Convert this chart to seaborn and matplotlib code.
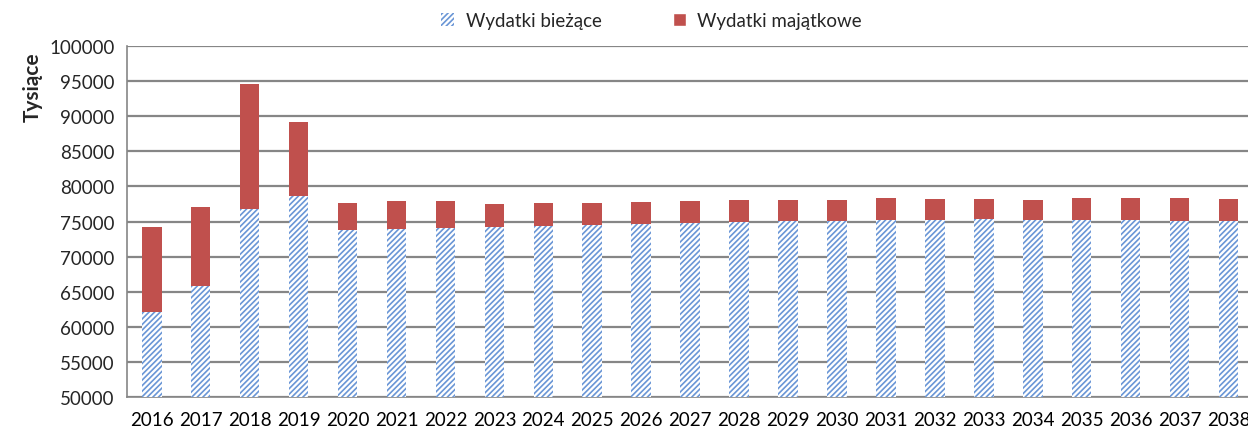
import matplotlib.pyplot as plt
import matplotlib.patches as mpatches
import seaborn as sns
import pandas as pd
import numpy as np

years = [str(y) for y in range(2016, 2039)]
# Wydatki bieżące (tys.)
biezace = [62060, 65810, 76820, 78630, 73740, 73930, 74070, 74260, 74400, 74550,
           74690, 74830, 74970, 75020, 75120, 75170, 75210, 75360, 75210, 75210,
           75210, 75120, 75070]
# Wydatki ogółem (bieżące + majątkowe)
ogolem = [74250, 77110, 94590, 89170, 77640, 77920, 77920, 77450, 77590, 77680,
          77780, 77870, 78060, 78110, 78110, 78350, 78160, 78250, 78110, 78300,
          78300, 78300, 78200]

df = pd.DataFrame({'Rok': years, 'Biezace': biezace, 'Ogolem': ogolem})

sns.set_style('white')
plt.rcParams['font.family'] = ['Lato', 'DejaVu Sans']
plt.rcParams['hatch.linewidth'] = 1.2

blue = '#6a96d6'
red = '#c0504d'
grid_col = '#868686'

fig = plt.figure(figsize=(12.48, 4.35), dpi=100)
ax = fig.add_axes([0.102, 0.085, 0.902, 0.807])

# majątkowe = górna część słupka (rysowana jako suma)
sns.barplot(data=df, x='Rok', y='Ogolem', color=red, width=0.4, ax=ax,
            saturation=1, linewidth=0, zorder=3)
n = len(ax.patches)
sns.barplot(data=df, x='Rok', y='Biezace', color='white', width=0.4, ax=ax,
            saturation=1, linewidth=0, zorder=4)
for p in ax.patches[n:]:
    p.set_facecolor('white')
    p.set_edgecolor(blue)
    p.set_hatch('//////')
    p.set_linewidth(0)

ax.set_ylim(50000, 100000)
ax.set_xlim(-0.5, len(years) - 0.5)
ax.set_yticks(np.arange(50000, 100001, 5000))
ax.yaxis.grid(True, color=grid_col, linewidth=1.6, zorder=0)
ax.set_axisbelow(True)

for s in ['top', 'right']:
    ax.spines[s].set_visible(False)
for s in ['left', 'bottom']:
    ax.spines[s].set_color(grid_col)
    ax.spines[s].set_linewidth(1.2)

# ticki na granicach kategorii
ax.set_xticks(np.arange(len(years)))
ax.set_xticklabels(years)
ax.tick_params(axis='x', length=0, labelsize=13.5, pad=10, colors='black')
ax.set_xticks(np.arange(-0.5, len(years), 1), minor=True)
ax.tick_params(axis='x', which='minor', length=6, color=grid_col, width=1.2)
ax.tick_params(axis='y', length=5, color=grid_col, width=1.2, labelsize=13.5, pad=4)

ax.set_xlabel('')
ax.set_ylabel('Tysiące', fontsize=15, fontweight='bold')
ax.yaxis.set_label_coords(-0.075, 0.885)

h1 = mpatches.Patch(facecolor='white', edgecolor=blue, hatch='//////', linewidth=0,
                    label='Wydatki bieżące')
h2 = mpatches.Patch(facecolor=red, label='Wydatki majątkowe')
fig.legend(handles=[h1, h2], loc='center', bbox_to_anchor=(0.522, 0.95), ncol=2,
           frameon=False, fontsize=13.5, handlelength=0.7, handleheight=0.7,
           columnspacing=3.8, handletextpad=0.6)

fig.savefig('out.png', dpi=100)
